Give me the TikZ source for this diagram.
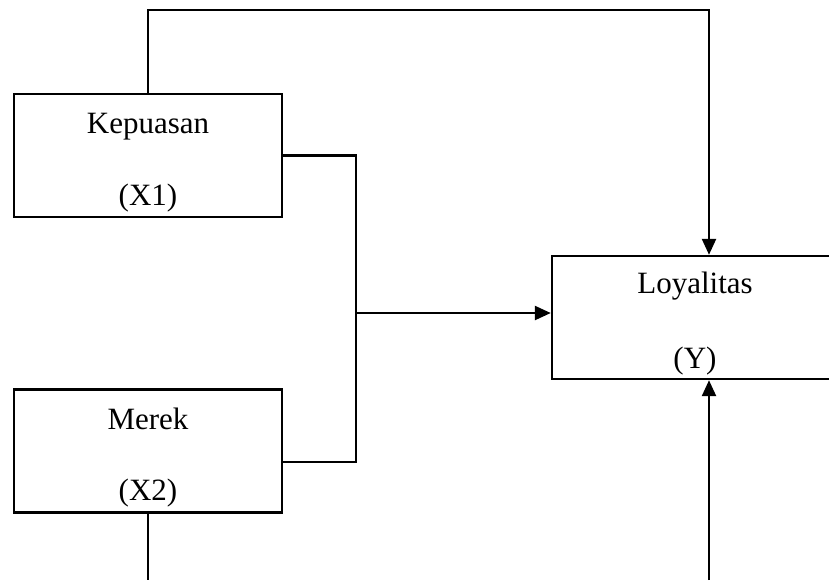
\documentclass[tikz,border=0pt]{standalone}
\usepackage{fontspec}
\setmainfont{Liberation Serif}
\usetikzlibrary{arrows.meta,positioning}

\begin{document}
\begin{tikzpicture}[x=0.5pt,y=-0.5pt,
  box/.style={draw,line width=1.2pt,minimum width=134pt,minimum height=61.5pt,inner sep=0pt},
  lbl/.style={font=\fontsize{15.5}{18}\selectfont,anchor=base},
  arc/.style={-{Triangle[length=8pt,width=7pt]},line width=1.2pt},
  link/.style={line width=1.2pt}]
  \useasboundingbox (0,0) rectangle (829,580);
  \clip (0,0) rectangle (829,580);
  \node[box] (x1) at (148,155.5) {};
  \node[box] (x2) at (148,451) {};
  \node[box,minimum width=143pt] (y) at (695,317.5) {};
  \node[lbl] (x1a) at ([yshift=-20.5pt]x1.north) {Kepuasan};
  \node[lbl] (x1b) at ([yshift=6.5pt]x1.south) {(X1)};
  \node[lbl] (x2a) at ([yshift=-20.5pt]x2.north) {Merek};
  \node[lbl] (x2b) at ([yshift=6.5pt]x2.south) {(X2)};
  \node[lbl] (ya) at ([yshift=-19.5pt]y.north) {Loyalitas};
  \node[lbl] (yb) at ([yshift=6pt]y.south) {(Y)};

  \coordinate (j) at (356,313);
  \coordinate (ytop) at (709,10);
  \coordinate (ybot) at (709,580);
  \coordinate (x2end) at (148,580);
  \draw[arc] (x1.north) |- (ytop) -- (ytop |- y.north);
  \draw[link] (x1.east) -| (j) |- ([yshift=-5.5pt]x2.east);
  \draw[arc] (j) -- (j -| y.west);
  \draw[link] (x2.south) -- (x2end);
  \draw[arc] (ybot) -- (ybot |- y.south);
\end{tikzpicture}
\end{document}
